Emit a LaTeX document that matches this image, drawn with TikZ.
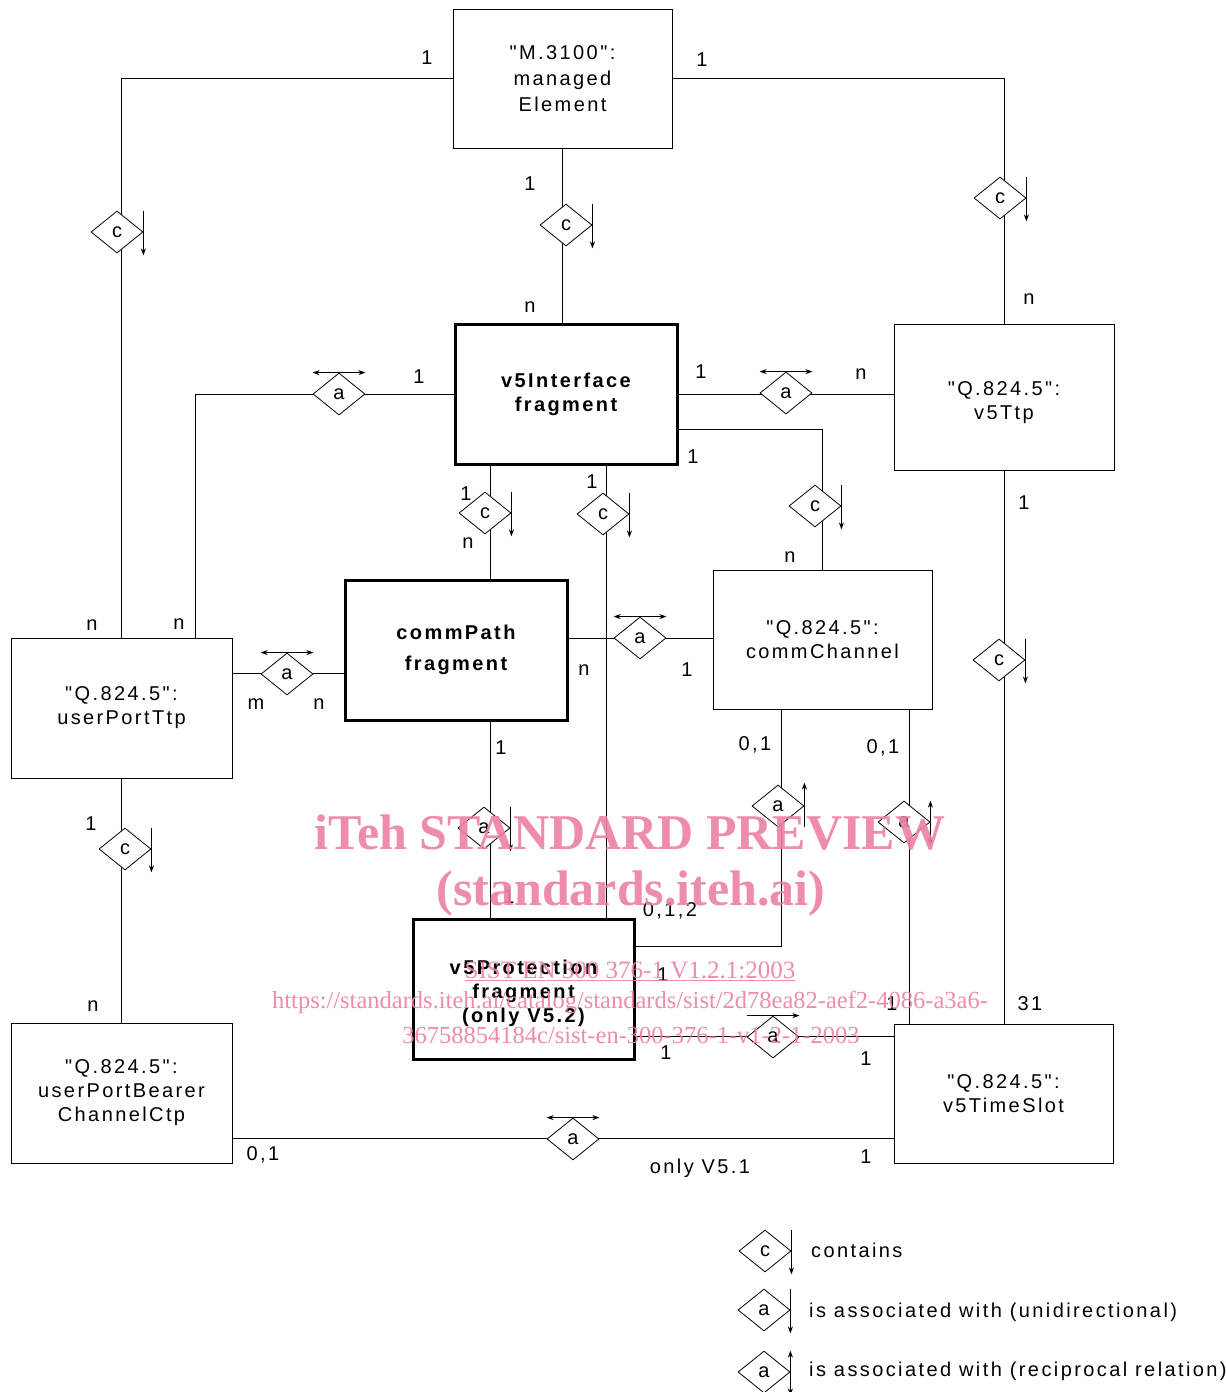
\documentclass[tikz,border=0pt]{standalone}
\usepackage{fontspec}
\setmainfont{Liberation Sans}
\newfontfamily\lsfont[LetterSpace=12]{Liberation Sans}
\newfontfamily\wmfont{Liberation Serif}
\usetikzlibrary{shapes.geometric,arrows.meta,calc}
\definecolor{wmpink}{RGB}{236,128,163}
\newcommand\tipDown[1]{\draw[tipone] (#1.east |- #1.north) -- ($(#1.east |- #1.south)+(0,2)$);}
\newcommand\tipUp[1]{\draw[tipone] (#1.east |- #1.south) -- ($(#1.east |- #1.north)+(0,-2)$);}
\newcommand\tipBothV[1]{\draw[tiptwo] (#1.east |- #1.north) -- ($(#1.east |- #1.south)+(0,2)$);}
\newcommand\tipBothH[1]{\draw[tiptwo] (#1.west |- #1.north) -- (#1.east |- #1.north);}
\newcommand\tipRight[1]{\draw[tipone] (#1.west |- #1.north) -- (#1.east |- #1.north);}
\newcommand\lowerlines[2]{\raisebox{-#1}[\height][\depth]{\begin{tabular}{@{}c@{}}#2\end{tabular}}}
\begin{document}
\begin{tikzpicture}[x=1pt,y=-1pt,
  box/.style={draw,line width=1pt,inner sep=0pt,align=center,
    font=\lsfont\fontsize{20}{24}\selectfont},
  fragbox/.style={box,line width=3pt,font=\lsfont\bfseries\fontsize{20}{24}\selectfont},
  rel/.style={draw,diamond,fill=white,inner sep=0pt,minimum width=52pt,
    minimum height=42pt,line width=0.8pt,font=\fontsize{20}{20}\selectfont},
  conn/.style={line width=1pt},
  tipone/.style={line width=0.8pt,-{Stealth[length=7pt,width=5pt]}},
  tiptwo/.style={line width=0.8pt,{Stealth[length=7pt,width=5pt]}-{Stealth[length=7pt,width=5pt]}},
  lbl/.style={inner sep=0pt,font=\lsfont\fontsize{20}{20}\selectfont},
  legtxt/.style={lbl,anchor=west},
  wm/.style={inner sep=0pt,text=wmpink,opacity=0.9},
]
\useasboundingbox (0,0) rectangle (1226,1392);
\fill[white] (0,0) rectangle (1226,1392);

% boxes
\node[box,minimum width=219,minimum height=139,font=\lsfont\fontsize{20}{26}\selectfont] (me) at (562.5,78.5) {"M.3100":\\managed\\Element};
\node[fragbox,minimum width=222,minimum height=140] (v5i) at (566,394) {v5Interface\\fragment};
\node[box,minimum width=220,minimum height=146] (v5t) at (1004,397) {\lowerlines{6pt}{"Q.824.5":\\v5Ttp}};
\node[fragbox,minimum width=222,minimum height=140] (cp) at (456,650) {commPath\\[7pt]fragment};
\node[box,minimum width=219,minimum height=139] (cc) at (822.5,639.5) {"Q.824.5":\\commChannel};
\node[box,minimum width=221,minimum height=140] (upt) at (121.5,708) {"Q.824.5":\\userPortTtp};
\node[fragbox,minimum width=221,minimum height=140] (vp) at (523.5,989) {\lowerlines{5pt}{v5Protection\\fragment\\(only V5.2)}};
\node[box,minimum width=221,minimum height=140] (upb) at (121.5,1093) {"Q.824.5":\\userPortBearer\\ChannelCtp};
\node[box,minimum width=219,minimum height=139] (vts) at (1003.5,1093.5) {"Q.824.5":\\v5TimeSlot};

% junction coordinates
\coordinate (j4) at ($(upt.north)+(73.5,0)$);
\coordinate (j6) at ($(v5i.east)+(0,35)$);
\coordinate (j7) at ($(v5i.south)+(-76,0)$);
\coordinate (j8) at ($(v5i.south)+(40,0)$);
\coordinate (j9) at ($(upt.east)+(0,-35)$);
\coordinate (j10) at ($(cp.east)+(0,-12)$);
\coordinate (j11) at ($(cp.south)+(34,0)$);
\coordinate (j12) at ($(cc.south)+(-41.5,0)$);
\coordinate (j12b) at ($(vp.north east)+(0,29)$);
\coordinate (j13) at ($(cc.south)+(86.5,0)$);
\coordinate (j15) at ($(vp.east)+(0,47)$);
\coordinate (j16) at ($(upb.east)+(0,45)$);

% connectors
\draw[conn] (me.west) -| (upt.north);
\draw[conn] (me.south) -- (me.south |- v5i.north);
\draw[conn] (me.east) -| (v5t.north);
\draw[conn] (v5i.west) -| (j4);
\draw[conn] (v5i.east) -- (v5i.east -| v5t.west);
\draw[conn] (j6) -| (cc.north);
\draw[conn] (j7) -- (j7 |- cp.north);
\draw[conn] (j8) -- (j8 |- vp.north);
\draw[conn] (j9) -- (j9 -| cp.west);
\draw[conn] (j10) -- (j10 -| cc.west);
\draw[conn] (j11) -- (j11 |- vp.north);
\draw[conn] (j12) |- (j12b);
\draw[conn] (j13) -- (j13 |- vts.north);
\draw[conn] (v5t.south) -- (v5t.south |- vts.north);
\draw[conn] (j15) -- (j15 -| vts.west);
\draw[conn] (j16) -- (j16 -| vts.west);
\draw[conn] (upt.south) -- (upb.north);

% relation diamonds
\node[rel] (d1) at (117,232) {c}; \tipDown{d1}
\node[rel] (d2) at (566,225) {c}; \tipDown{d2}
\node[rel] (d3) at (1000,198) {c}; \tipDown{d3}
\node[rel] (d4) at (339,394) {a}; \tipBothH{d4}
\node[rel] (d5) at (786,393) {a}; \tipBothH{d5}
\node[rel] (d6) at (815,506) {c}; \tipDown{d6}
\node[rel] (d7) at (485,513) {c}; \tipDown{d7}
\node[rel] (d8) at (603,514) {c}; \tipDown{d8}
\node[rel] (d9) at (287,674) {a}; \tipBothH{d9}
\node[rel] (d10) at (640,638) {a}; \tipBothH{d10}
\node[rel] (d11) at (484,828) {a}; \tipDown{d11}
\node[rel] (d12) at (778,806) {a}; \tipUp{d12}
\node[rel] (d13) at (904,822) {a}; \tipBothV{d13}
\node[rel] (d14) at (999,660) {c}; \tipDown{d14}
\node[rel] (d15) at (773,1037) {a}; \tipRight{d15}
\node[rel] (d16) at (573,1139) {a}; \tipBothH{d16}
\node[rel] (d17) at (125,849) {c}; \tipDown{d17}

% cardinality labels
\node[lbl] (l1) at (427,58) {1};
\node[lbl] (l2) at (92,625) {n};
\node[lbl] (l3) at (530,184) {1};
\node[lbl] (l4) at (530,307) {n};
\node[lbl] (l5) at (702,60) {1};
\node[lbl] (l6) at (1029,299) {n};
\node[lbl] (l7) at (419,377) {1};
\node[lbl] (l8) at (179,624) {n};
\node[lbl] (l9) at (701,372) {1};
\node[lbl] (l10) at (861,374) {n};
\node[lbl] (l11) at (693,457) {1};
\node[lbl] (l12) at (790,557) {n};
\node[lbl] (l13) at (466,494) {1};
\node[lbl] (l14) at (468,543) {n};
\node[lbl] (l15) at (592,482) {1};
\node[lbl] (l16) at (256,704) {m};
\node[lbl] (l17) at (319,704) {n};
\node[lbl] (l18) at (584,670) {n};
\node[lbl] (l19) at (687,670) {1};
\node[lbl] (l20) at (501,748) {1};
\node[lbl] (l21) at (509,897) {1};
\node[lbl] (l22) at (755,745) {0,1};
\node[lbl] (l23) at (670,911) {0,1,2};
\node[lbl] (l24) at (663,975) {1};
\node[lbl] (l25) at (883,748) {0,1};
\node[lbl] (l26) at (892,1004) {1};
\node[lbl] (l27) at (1024,503) {1};
\node[lbl] (l28) at (1030,1004) {31};
\node[lbl] (l29) at (666,1053) {1};
\node[lbl] (l30) at (866,1059) {1};
\node[lbl] (l31) at (263,1155) {0,1};
\node[lbl] (l32) at (866,1157) {1};
\node[lbl] (l33) at (700,1168) {only V5.1};
\node[lbl] (l34) at (91,824) {1};
\node[lbl] (l35) at (93,1006) {n};

% legend
\node[rel] (dl1) at (765,1251) {c}; \tipDown{dl1}
\node[rel] (dl2) at (764,1310) {a}; \tipDown{dl2}
\node[rel] (dl3) at (764,1372) {a}; \tipBothV{dl3}
\node[legtxt] (t1) at (811,1250) {contains};
\node[legtxt] (t2) at (809,1312) {is associated with (unidirectional)};
\node[legtxt] (t3) at (809,1371) {is associated with (reciprocal relation)};

% watermark
\node[wm,font=\wmfont\bfseries\fontsize{50}{50}\selectfont] (wm1) at (630,833) {iTeh STANDARD PREVIEW};
\node[wm,font=\wmfont\bfseries\fontsize{50}{50}\selectfont] (wm2) at (631,893) {(standards.iteh.ai)};
\node[wm,font=\wmfont\fontsize{25}{25}\selectfont] (wm3) at (630,971) {\underline{SIST EN 300 376-1 V1.2.1:2003}};
\node[wm,font=\wmfont\fontsize{24.5}{25}\selectfont] (wm4) at (630,1003) {https://standards.iteh.ai/catalog/standards/sist/2d78ea82-aef2-4086-a3a6-};
\node[wm,font=\wmfont\fontsize{24.5}{25}\selectfont] (wm5) at (631,1035) {36758854184c/sist-en-300-376-1-v1-2-1-2003};
\end{tikzpicture}
\end{document}
